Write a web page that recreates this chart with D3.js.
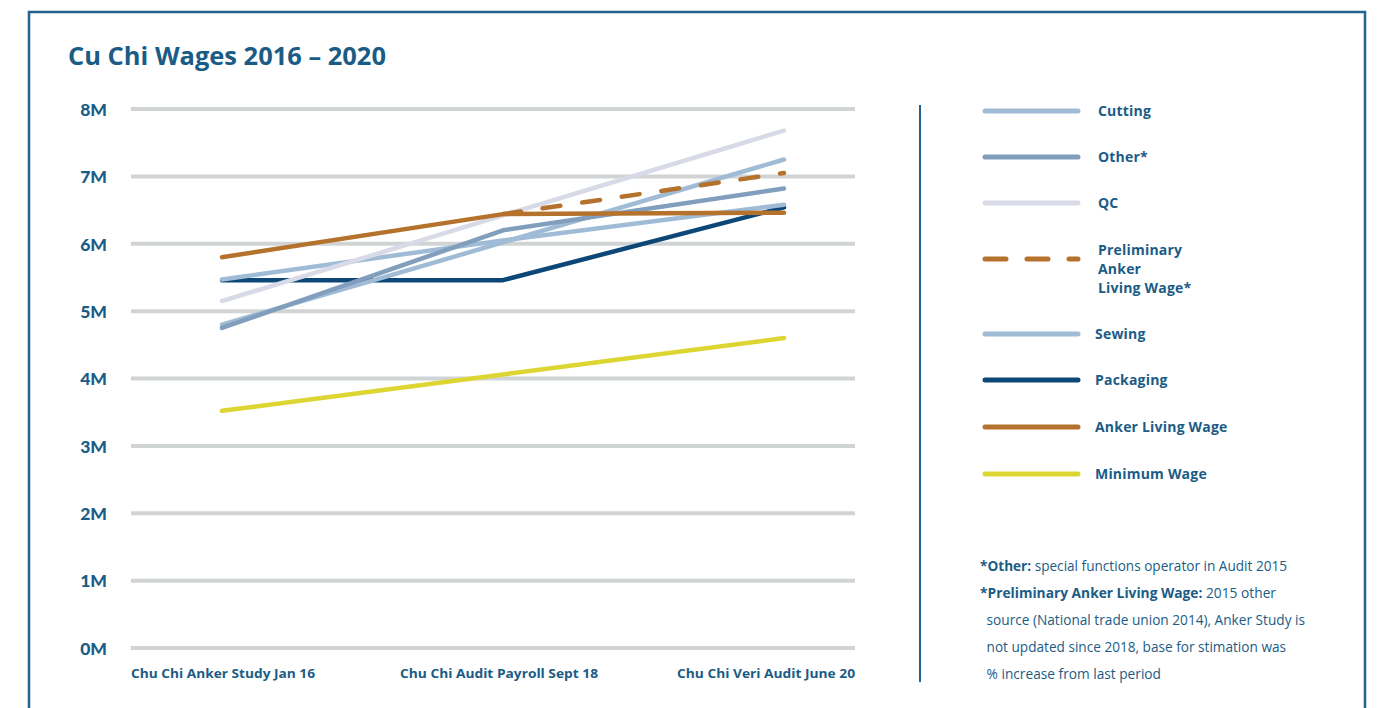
<!DOCTYPE html>
<html>
<head>
<meta charset="utf-8">
<script src="https://cdn.jsdelivr.net/npm/d3@7"></script>
<style>
  html, body { margin: 0; padding: 0; background: #ffffff; }
  svg { display: block; }
</style>
</head>
<body>
<svg id="chart" width="1382" height="708"></svg>
<script>
// ---------- DATA ----------
const categories = ["Chu Chi Anker Study Jan 16", "Chu Chi Audit Payroll Sept 18", "Chu Chi Veri Audit June 20"];
const cutting     = [5.47, 6.05, 6.58];
const other       = [4.75, 6.20, 6.82];
const qc          = [5.15, 6.42, 7.68];
const preliminary = [null, 6.44, 7.05];
const sewing      = [4.80, 6.02, 7.25];
const packaging   = [5.46, 5.46, 6.54];
const anker       = [5.80, 6.44, 6.46];
const minimum     = [3.52, 4.06, 4.60];
const yTicks      = [0, 1, 2, 3, 4, 5, 6, 7, 8];
const yTickLabels = ["0M", "1M", "2M", "3M", "4M", "5M", "6M", "7M", "8M"];
const title       = "Cu Chi Wages 2016 \u2013 2020";
const legendNames = ["Cutting", "Other*", "QC", ["Preliminary", "Anker", "Living Wage*"], "Sewing", "Packaging", "Anker Living Wage", "Minimum Wage"];
const footnotes = [
  [["*Other: ", true], ["special functions operator in Audit 2015", false]],
  [["*Preliminary Anker Living Wage: ", true], ["2015 other", false]],
  [[" source (National trade union 2014), Anker Study is", false]],
  [[" not updated since 2018, base for stimation was", false]],
  [[" % increase from last period", false]]
];

// ---------- STYLES / LAYOUT ----------
const BLUE_TEXT = "#1b5c86";
const series = [
  { name: "Packaging",   values: packaging,   color: "#0c4777", dash: null },
  { name: "Cutting",     values: cutting,     color: "#a0bbd6", dash: null },
  { name: "Sewing",      values: sewing,      color: "#a0bbd6", dash: null },
  { name: "QC",          values: qc,          color: "#d8dbe7", dash: null },
  { name: "Other*",      values: other,       color: "#819fbc", dash: null },
  { name: "Minimum",     values: minimum,     color: "#dcd532", dash: null },
  { name: "Anker",       values: anker,       color: "#b5722c", dash: null },
  { name: "Preliminary", values: preliminary, color: "#b5722c", dash: "18,22" }
];
const legendStyles = [
  { color: "#a0bbd6", dash: null, y: 111, tx: 1098 },
  { color: "#819fbc", dash: null, y: 157, tx: 1098 },
  { color: "#d8dbe7", dash: null, y: 203, tx: 1098 },
  { color: "#b5722c", dash: "21,21", y: 259, tx: 1098 },
  { color: "#a0bbd6", dash: null, y: 334, tx: 1095 },
  { color: "#0c4777", dash: null, y: 380, tx: 1095 },
  { color: "#b5722c", dash: null, y: 427, tx: 1095 },
  { color: "#dcd532", dash: null, y: 474, tx: 1095 }
];

const svg = d3.select("#chart");

// frame
svg.append("rect")
  .attr("x", 29).attr("y", 12).attr("width", 1336).attr("height", 720)
  .attr("fill", "none").attr("stroke", "#22628f").attr("stroke-width", 2.5);

// title
svg.append("text")
  .attr("x", 68).attr("y", 65)
  .attr("font-family", "'Open Sans', sans-serif")
  .attr("font-weight", 700).attr("font-size", 25)
  .attr("fill", BLUE_TEXT)
  .attr("textLength", 318).attr("lengthAdjust", "spacingAndGlyphs")
  .text(title);

// scales
const gridLeft = 131, gridRight = 855;
const x = d3.scalePoint().domain(categories).range([222, 784]);
const y = d3.scaleLinear().domain([0, 8]).range([648, 109]);

// gridlines
svg.append("g").selectAll("line").data(yTicks).join("line")
  .attr("x1", gridLeft).attr("x2", gridRight)
  .attr("y1", d => y(d)).attr("y2", d => y(d))
  .attr("stroke", "#d1d4d4").attr("stroke-width", 4);

// y axis labels
const yAxis = d3.axisLeft(y).tickValues(yTicks).tickSize(0).tickPadding(0)
  .tickFormat((d, i) => yTickLabels[i]);
const gy = svg.append("g").attr("transform", "translate(107,0)").call(yAxis);
gy.select(".domain").remove();
gy.selectAll("text")
  .attr("font-family", "Lato, sans-serif").attr("font-weight", 900)
  .attr("font-size", 17.5).attr("fill", BLUE_TEXT).attr("dy", "0.36em");

// x axis labels
const xAnchors = ["start", "middle", "end"];
const xPos = [gridLeft, x(categories[1]) - 4, gridRight];
const xWidths = [184, 198, 178];
svg.append("g").selectAll("text").data(categories).join("text")
  .attr("x", (d, i) => xPos[i]).attr("y", 678)
  .attr("text-anchor", (d, i) => xAnchors[i])
  .attr("font-family", "'Open Sans', sans-serif").attr("font-weight", 700)
  .attr("font-size", 13).attr("fill", BLUE_TEXT)
  .attr("textLength", (d, i) => xWidths[i]).attr("lengthAdjust", "spacingAndGlyphs")
  .text(d => d);

// lines
const line = d3.line()
  .defined(d => d.v !== null)
  .x(d => x(d.c)).y(d => y(d.v));
svg.append("g").selectAll("path").data(series).join("path")
  .attr("d", s => line(s.values.map((v, i) => ({ c: categories[i], v }))))
  .attr("fill", "none")
  .attr("stroke", s => s.color)
  .attr("stroke-width", 4.5)
  .attr("stroke-linecap", "round")
  .attr("stroke-linejoin", "round")
  .attr("stroke-dasharray", s => s.dash);

// divider
svg.append("line")
  .attr("x1", 920).attr("x2", 920).attr("y1", 105).attr("y2", 682)
  .attr("stroke", "#22628f").attr("stroke-width", 2);

// legend
const lg = svg.append("g");
legendStyles.forEach((st, i) => {
  lg.append("line")
    .attr("x1", 985).attr("x2", 1078).attr("y1", st.y).attr("y2", st.y)
    .attr("stroke", st.color).attr("stroke-width", 5)
    .attr("stroke-linecap", "round")
    .attr("stroke-dasharray", st.dash);
  const name = legendNames[i];
  const lines = Array.isArray(name) ? name : [name];
  const t = lg.append("text")
    .attr("x", st.tx)
    .attr("y", Array.isArray(name) ? st.y - 4 : st.y + 5)
    .attr("font-family", "'Open Sans', sans-serif").attr("font-weight", 700)
    .attr("font-size", 14).attr("fill", BLUE_TEXT)
    .attr("letter-spacing", 0.2);
  lines.forEach((ln, j) => {
    t.append("tspan").attr("x", st.tx).attr("dy", j === 0 ? 0 : 19).text(ln);
  });
});

// footnotes
const fnWidths = [307, 296, 317, 298, 173];
const fnX = [980, 980, 983, 983, 983];
footnotes.forEach((parts, i) => {
  const t = svg.append("text")
    .attr("x", fnX[i]).attr("y", 571 + i * 27)
    .attr("font-family", "'Open Sans', sans-serif")
    .attr("font-size", 14).attr("fill", BLUE_TEXT)
    .attr("textLength", fnWidths[i] + (fnX[i] === 983 ? 5 : 0))
    .attr("lengthAdjust", "spacingAndGlyphs")
    .attr("xml:space", "preserve");
  parts.forEach(p => {
    t.append("tspan").attr("font-weight", p[1] ? 700 : 400).text(p[0]);
  });
});
</script>
</body>
</html>
